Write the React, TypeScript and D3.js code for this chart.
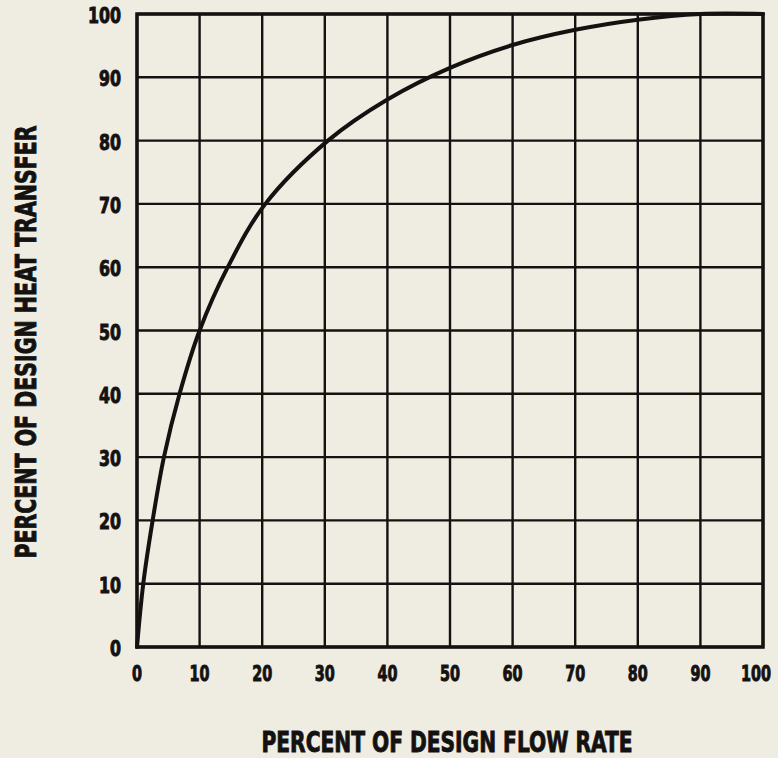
import React, { useEffect, useRef } from "react";
import * as d3 from "d3";

// Values
const flowRate = [0, 1, 2.5, 4.3, 6.8, 10, 14.5, 20.5, 30.5, 40, 50, 60, 70, 80, 90, 100];
const heatTransfer = [0, 10, 20, 30, 40, 50, 60, 70, 80, 86.5, 91.5, 95.1, 97.5, 99.1, 100, 100];

const xTicks = [0, 10, 20, 30, 40, 50, 60, 70, 80, 90, 100];
const yTicks = [0, 10, 20, 30, 40, 50, 60, 70, 80, 90, 100];

const xTitle = "PERCENT OF DESIGN FLOW RATE";
const yTitle = "PERCENT OF DESIGN HEAT TRANSFER";

const App = () => {
	const ref = useRef<SVGSVGElement>(null);

	useEffect(() => {
		const w = 778;
		const h = 758;
		const left = 137;
		const right = 763;
		const top = 14;
		const bottom = 647;
		const ink = "#141211";
		const font = "'Liberation Sans Narrow', 'DejaVu Sans Condensed', sans-serif";
		const digitW = 10;

		const xScale = d3.scaleLinear().domain([0, 100]).range([left, right]);
		const yScale = d3.scaleLinear().domain([0, 100]).range([bottom, top]);

		const svg = d3.select(ref.current);
		svg.selectAll("*").remove();

		svg.append("rect").attr("width", w).attr("height", h).attr("fill", "#efece2");

		// Grid
		svg
			.append("g")
			.selectAll("line")
			.data(xTicks)
			.join("line")
			.attr("x1", d => xScale(d))
			.attr("x2", d => xScale(d))
			.attr("y1", top)
			.attr("y2", bottom)
			.attr("stroke", ink)
			.attr("stroke-width", 2.4);

		svg
			.append("g")
			.selectAll("line")
			.data(yTicks)
			.join("line")
			.attr("x1", left)
			.attr("x2", right)
			.attr("y1", d => yScale(d))
			.attr("y2", d => yScale(d))
			.attr("stroke", ink)
			.attr("stroke-width", 2.4);

		// Frame
		svg
			.append("rect")
			.attr("x", left)
			.attr("y", top)
			.attr("width", right - left)
			.attr("height", bottom - top)
			.attr("fill", "none")
			.attr("stroke", ink)
			.attr("stroke-width", 3.5);

		// Curve
		const pts = flowRate.map((f, i) => [f, heatTransfer[i]] as [number, number]);
		svg
			.append("path")
			.datum(pts)
			.attr("fill", "none")
			.attr("stroke", ink)
			.attr("stroke-width", 4)
			.attr("stroke-linecap", "round")
			.attr(
				"d",
				d3
					.line<[number, number]>()
					.x(d => xScale(d[0]))
					.y(d => Math.max(yScale(d[1]), top))
					.curve(d3.curveCatmullRom.alpha(0.5))
			);

		// Tick labels
		const tickText = (sel: any) =>
			sel
				.attr("font-family", font)
				.attr("font-weight", "bold")
				.attr("font-size", 21)
				.attr("fill", ink)
				.attr("stroke", ink)
				.attr("stroke-width", 0.9);

		svg
			.append("g")
			.selectAll("text")
			.data(xTicks)
			.join("text")
			.attr("x", d => Math.min(xScale(d), w - 7 - (String(d).length * digitW) / 2))
			.attr("y", 674)
			.attr("text-anchor", "middle")
			.attr("dominant-baseline", "central")
			.attr("textLength", d => String(d).length * digitW)
			.attr("lengthAdjust", "spacingAndGlyphs")
			.text(d => d)
			.call(tickText);

		svg
			.append("g")
			.selectAll("text")
			.data(yTicks)
			.join("text")
			.attr("x", 121)
			.attr("y", d => yScale(d) + 2)
			.attr("text-anchor", "end")
			.attr("dominant-baseline", "central")
			.attr("textLength", d => String(d).length * (digitW + 1))
			.attr("lengthAdjust", "spacingAndGlyphs")
			.text(d => d)
			.call(tickText);

		// Axis titles
		svg
			.append("text")
			.attr("x", 447)
			.attr("y", 742)
			.attr("text-anchor", "middle")
			.attr("dominant-baseline", "central")
			.attr("textLength", 371)
			.attr("lengthAdjust", "spacingAndGlyphs")
			.text(xTitle)
			.call(tickText)
			.attr("font-size", 29);

		svg
			.append("text")
			.attr("transform", `translate(26, 342) rotate(-90)`)
			.attr("text-anchor", "middle")
			.attr("dominant-baseline", "central")
			.attr("textLength", 433)
			.attr("lengthAdjust", "spacingAndGlyphs")
			.text(yTitle)
			.call(tickText)
			.attr("font-size", 29);
	}, []);

	return (
		<svg
			ref={ref}
			width={778}
			height={758}
			style={{ position: "absolute", left: 0, top: 0, display: "block" }}
		/>
	);
};

export default App;
